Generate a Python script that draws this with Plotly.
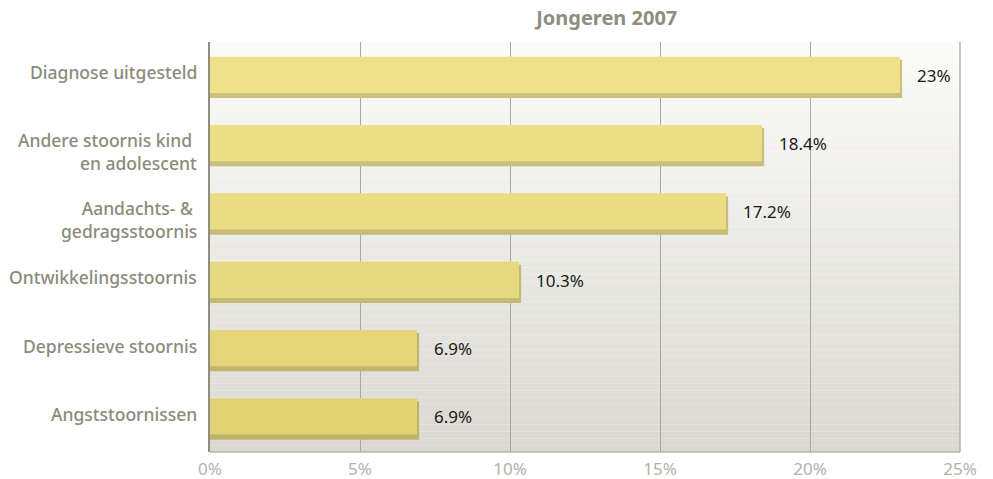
import plotly.graph_objects as go

categories = ["Diagnose uitgesteld", "Andere stoornis kind <br>en adolescent",
              "Aandachts- & <br>gedragsstoornis", "Ontwikkelingsstoornis",
              "Depressieve stoornis", "Angststoornissen"]
values = [23, 18.4, 17.2, 10.3, 6.9, 6.9]
tick_vals = [0, 5, 10, 15, 20, 25]
tick_text = ["0%", "5%", "10%", "15%", "20%", "25%"]
title = "Jongeren 2007"

face_colors = ["#eee18a", "#ecdf86", "#eadc82", "#e7d97d", "#e4d678", "#e1d373"]
shadow_colors = ["#cbc07e", "#c9be7b", "#c7bb77", "#c4b873", "#c2b56f", "#bfb26b"]

LABEL_FONT = dict(family="Noto Sans", size=17.5, color="#8a8b7a", weight=500)

fig = go.Figure()
# shadow (3D edge)
fig.add_trace(go.Bar(
    y=categories, x=[v + 0.07 for v in values], orientation="h",
    marker=dict(color=shadow_colors, line=dict(width=0)),
    width=0.56, offset=-0.24, hoverinfo="skip", showlegend=False))
# face
fig.add_trace(go.Bar(
    y=categories, x=values, orientation="h",
    marker=dict(color=face_colors, line=dict(width=0)),
    width=0.53, offset=-0.285, showlegend=False))

for c, v in zip(categories, values):
    fig.add_annotation(x=v, y=c, text=f"{v:g}%", showarrow=False,
                       xanchor="left", xshift=15, yshift=1,
                       font=dict(family="Noto Sans", size=17, color="#1a1a1a"))

# category labels
for c in categories:
    multi = "<br>" in c
    fig.add_annotation(xref="paper", x=0, y=c, text=c, showarrow=False,
                       xanchor="right", align="right", xshift=-11,
                       yshift=-7 if multi else 4,
                       font=LABEL_FONT)

# background gradient within plot area
n = 60
top = (251, 251, 250)
bot = (218, 217, 209)
shapes = []
for i in range(n):
    t = i / (n - 1)
    col = tuple(int(round(top[k] + (bot[k] - top[k]) * t)) for k in range(3))
    shapes.append(dict(type="rect", xref="paper", yref="paper",
                       x0=0, x1=1, y0=1 - (i + 1) / n, y1=1 - i / n,
                       fillcolor="rgb(%d,%d,%d)" % col, line=dict(width=0),
                       layer="below"))
# right and bottom border
shapes.append(dict(type="line", xref="paper", yref="paper", x0=1, x1=1, y0=0, y1=1,
                   line=dict(color="#b4b3a8", width=1.5), layer="above"))
shapes.append(dict(type="line", xref="paper", yref="paper", x0=0, x1=1, y0=0, y1=0,
                   line=dict(color="#b4b3a8", width=1.5), layer="above"))

fig.update_layout(
    width=993, height=479,
    margin=dict(l=210, r=33, t=42, b=27),
    paper_bgcolor="white", plot_bgcolor="rgba(0,0,0,0)",
    barmode="overlay", bargap=0.4,
    shapes=shapes,
    title=dict(text=title, x=0.611, xanchor="center", y=0.977, yanchor="top",
               font=dict(family="Noto Sans", size=20, color="#8c8f7e", weight="bold")),
    xaxis=dict(range=[0, 25], tickvals=tick_vals, ticktext=tick_text,
               showgrid=True, gridcolor="#a9a89c", gridwidth=1,
               zeroline=False, showline=False, ticks="", automargin=False,
               ticklabelstandoff=5,
               tickfont=dict(family="Noto Sans", size=17, color="#b3b2a9")),
    yaxis=dict(autorange="reversed", showgrid=False, zeroline=False,
               showline=True, linecolor="#8f8e80", linewidth=2, ticks="",
               showticklabels=False, automargin=False),
)

fig.write_html("out.html")
